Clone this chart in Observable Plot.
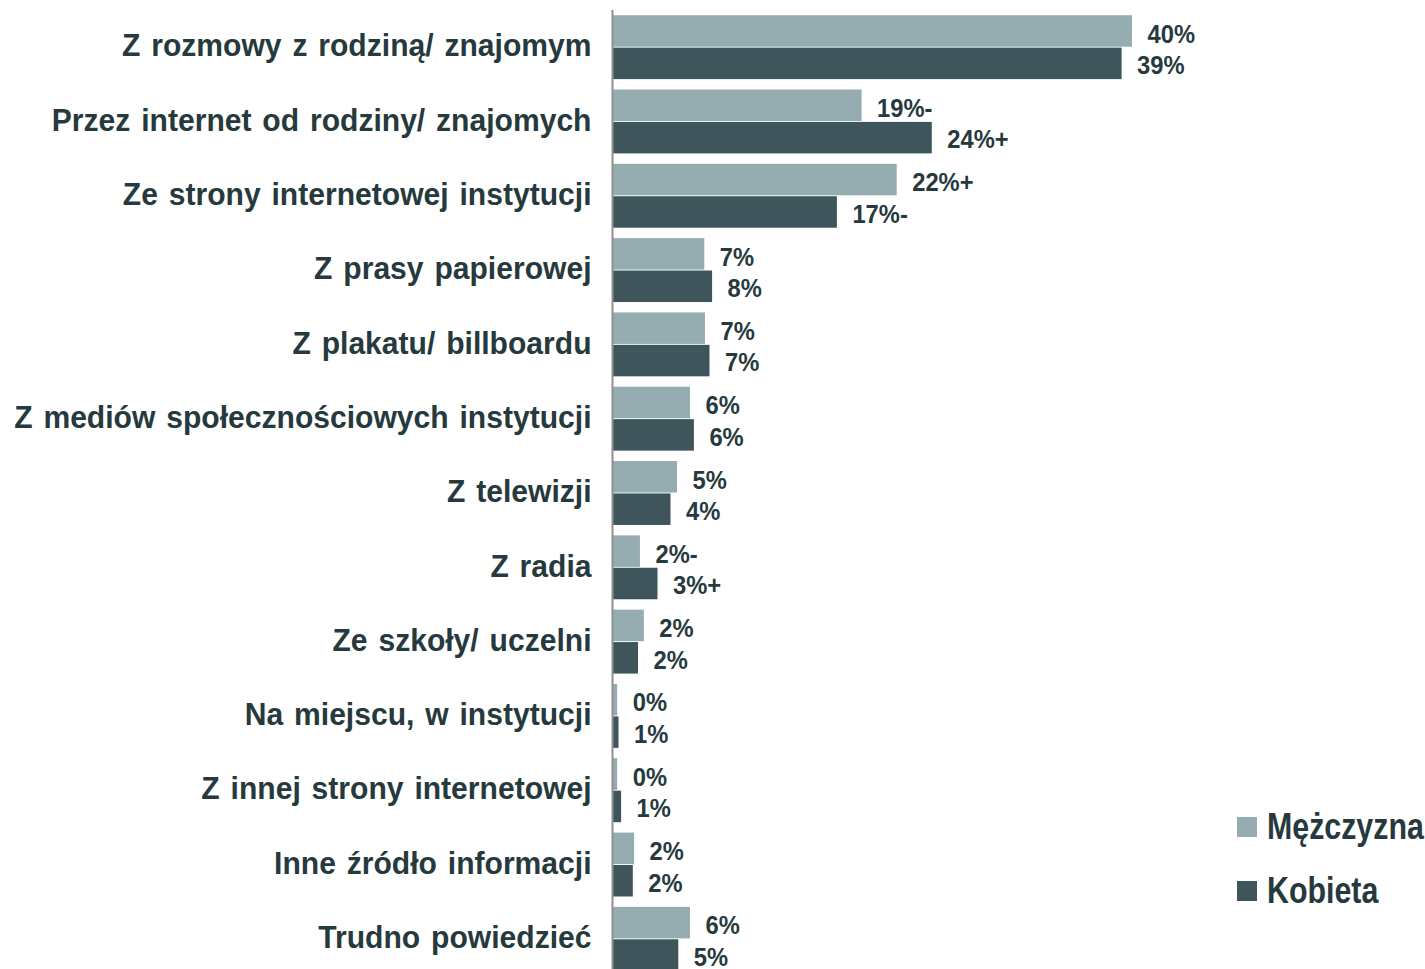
<!DOCTYPE html>
<html>
<head>
<meta charset="utf-8">
<script src="https://cdn.jsdelivr.net/npm/d3@7"></script>
<script src="https://cdn.jsdelivr.net/npm/@observablehq/plot@0.6"></script>
<style>
  html, body { margin: 0; padding: 0; background: #fff; overflow: hidden; }
  body { width: 1425px; height: 969px; position: relative; font-family: "Liberation Sans", Arial, sans-serif; }
  #chart { position: absolute; left: 0; top: 0; }
  .legend { position: absolute; left: 1237px; height: 37px; font-weight: bold; font-size: 37px; line-height: 1; color: #263a3e; display: flex; align-items: center; white-space: nowrap; }
  .legend span.sw { display: inline-block; width: 20px; height: 20px; margin-right: 10px; }
  .legend span.tx { display: inline-block; transform: scaleX(0.82); transform-origin: left center; }
</style>
</head>
<body>
<div id="chart"></div>
<div class="legend" id="leg1" style="top: 808px;"></div>
<div class="legend" id="leg2" style="top: 872px;"></div>
<script>
const categories = [
  "Z rozmowy z rodziną/ znajomym",
  "Przez internet od rodziny/ znajomych",
  "Ze strony internetowej instytucji",
  "Z prasy papierowej",
  "Z plakatu/ billboardu",
  "Z mediów społecznościowych instytucji",
  "Z telewizji",
  "Z radia",
  "Ze szkoły/ uczelni",
  "Na miejscu, w instytucji",
  "Z innej strony internetowej",
  "Inne źródło informacji",
  "Trudno powiedzieć"
];
const series = ["Mężczyzna", "Kobieta"];
const colors = ["#95adb1", "#3e565b"];
const menValues = [40.0, 19.2, 21.9, 7.1, 7.15, 6.0, 5.0, 2.15, 2.45, 0.4, 0.4, 1.7, 6.0];
const womenValues = [39.2, 24.6, 17.3, 7.7, 7.5, 6.3, 4.5, 3.5, 2.0, 0.5, 0.7, 1.6, 5.1];
const menLabels = ["40%", "19%-", "22%+", "7%", "7%", "6%", "5%", "2%-", "2%", "0%", "0%", "2%", "6%"];
const womenLabels = ["39%", "24%+", "17%-", "8%", "7%", "6%", "4%", "3%+", "2%", "1%", "1%", "2%", "5%"];

const men = categories.map((c, i) => ({category: c, value: menValues[i], label: menLabels[i]}));
const women = categories.map((c, i) => ({category: c, value: womenValues[i], label: womenLabels[i]}));

const textColor = "#263a3e";
const fontFamily = '"Liberation Sans", Arial, sans-serif';

const chart = Plot.plot({
  width: 1425,
  height: 976,
  marginTop: 10,
  marginBottom: 0,
  marginLeft: 612,
  marginRight: 293,
  style: {fontFamily, background: "transparent"},
  x: {domain: [0, 40], axis: null},
  y: {domain: categories, paddingInner: 0.14, paddingOuter: 0.07, round: false, label: null},
  marks: [
    Plot.barX(men, {y: "category", x: "value", fill: colors[0], insetBottom: 32.4}),
    Plot.barX(women, {y: "category", x: "value", fill: colors[1], insetTop: 32.4}),
    Plot.text(men, {y: "category", x: "value", text: "label", dx: 15, dy: -13, textAnchor: "start",
      fontSize: 25, fontWeight: "bold", fill: textColor, className: "vlabel"}),
    Plot.text(women, {y: "category", x: "value", text: "label", dx: 15, dy: 18.5, textAnchor: "start",
      fontSize: 25, fontWeight: "bold", fill: textColor, className: "vlabel"}),
    Plot.axisY({tickSize: 0, tickPadding: 21, dy: -1.5, fontSize: 32, fontWeight: "bold", fill: textColor, label: null, className: "clabel"}),
    Plot.ruleX([0], {stroke: "#8f8f8f", strokeWidth: 2})
  ]
});
document.getElementById("chart").appendChild(chart);

// horizontally condense glyphs around each text's anchor (narrow bold face look)
function condense(sel, k, word) {
  chart.querySelectorAll(sel).forEach((t) => {
    t.style.wordSpacing = (word / k) + "px";
    const x = +(t.getAttribute("x") || 0);
    const tr = t.getAttribute("transform") || "";
    t.setAttribute("transform", `${tr} translate(${x},0) scale(${k},1) translate(${-x},0)`);
  });
}
condense(".clabel text", 0.94, 2.5);
condense(".vlabel text", 0.95, 0);

series.forEach((s, i) => {
  const el = document.getElementById("leg" + (i + 1));
  el.innerHTML = `<span class="sw" style="background:${colors[i]}"></span><span class="tx">${s}</span>`;
});
</script>
</body>
</html>
